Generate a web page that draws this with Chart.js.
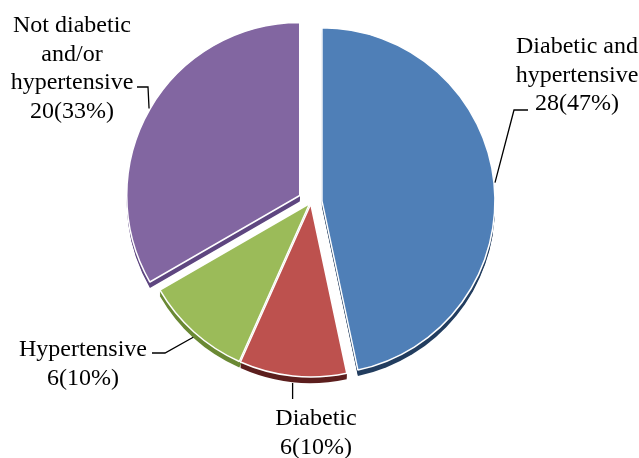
<!DOCTYPE html>
<html>
<head>
<meta charset="utf-8">
<script src="https://cdn.jsdelivr.net/npm/chart.js"></script>
<style>
    html, body { margin: 0; padding: 0; background: #ffffff; }
    #wrap { width: 639px; height: 458px; position: relative; }
</style>
</head>
<body>
<div id="wrap"><canvas id="pieChart"></canvas></div>
<script>
const categories = ['Diabetic and hypertensive', 'Diabetic', 'Hypertensive', 'Not diabetic and/or hypertensive'];
const counts = [28, 6, 6, 20];

const sliceColors = ['#4f7fb7', '#bd514e', '#9bbb59', '#8266a1'];
const sideColors = ['#223d5f', '#5c1e1d', '#6a8934', '#5e4680'];
const explode = [11, 2, 2, 13];   // how far each slice is pulled out
const depth = 6;                  // thickness of the pie

// label text per slice (the count line is added below)
const labelLines = [
    ['Diabetic and', 'hypertensive'],
    ['Diabetic'],
    ['Hypertensive'],
    ['Not diabetic', 'and/or', 'hypertensive']
];
const labelPos = [
    { x: 577, y: 53 },
    { x: 316, y: 425 },
    { x: 83, y: 356 },
    { x: 72, y: 32 }
];
// leader line bends, going from the slice out to the text
const leaderBends = [
    [{ x: 514, y: 110 }, { x: 528, y: 110 }],
    [{ x: null, y: 399 }],
    [{ x: 165, y: 353 }, { x: 152, y: 353 }],
    [{ x: 148, y: 87 }, { x: 137, y: 87 }]
];

const total = counts.reduce((a, b) => a + b, 0);

function pullOut(arc, i) {
    const mid = (arc.startAngle + arc.endAngle) / 2;
    return { dx: Math.cos(mid) * explode[i], dy: Math.sin(mid) * explode[i], mid: mid };
}

// draws the side walls, then the exploded slices on top
const pie3d = {
    id: 'pie3d',
    beforeDatasetDraw(chart, args) {
        const ctx = chart.ctx;
        const arcs = args.meta.data;
        arcs.forEach(function (arc, i) {
            const p = pullOut(arc, i);
            ctx.save();
            ctx.fillStyle = sideColors[i];
            for (let k = 1; k <= depth; k++) {
                ctx.beginPath();
                ctx.moveTo(arc.x + p.dx, arc.y + p.dy + k);
                ctx.arc(arc.x + p.dx, arc.y + p.dy + k, arc.outerRadius, arc.startAngle, arc.endAngle);
                ctx.closePath();
                ctx.fill();
            }
            ctx.restore();
        });
        arcs.forEach(function (arc, i) {
            const p = pullOut(arc, i);
            ctx.save();
            ctx.translate(p.dx, p.dy);
            arc.draw(ctx);
            ctx.restore();
        });
        return false;
    }
};

const pieLabels = {
    id: 'pieLabels',
    afterDraw(chart) {
        const ctx = chart.ctx;
        const arcs = chart.getDatasetMeta(0).data;
        ctx.save();
        ctx.strokeStyle = '#000000';
        ctx.lineWidth = 1.3;
        arcs.forEach(function (arc, i) {
            const p = pullOut(arc, i);
            const r = arc.outerRadius + 1;
            let sx = arc.x + p.dx + Math.cos(p.mid) * r;
            let sy = arc.y + p.dy + Math.sin(p.mid) * r;
            if (Math.sin(p.mid) > 0) sy += depth * Math.sin(p.mid);
            ctx.beginPath();
            ctx.moveTo(sx, sy);
            leaderBends[i].forEach(function (pt) {
                ctx.lineTo(pt.x === null ? sx : pt.x, pt.y);
            });
            ctx.stroke();
        });

        ctx.fillStyle = '#000000';
        ctx.font = '24px "Liberation Serif", "Times New Roman", serif';
        ctx.textAlign = 'center';
        ctx.textBaseline = 'alphabetic';
        counts.forEach(function (v, i) {
            const pct = Math.round(v / total * 100);
            const lines = labelLines[i].concat([v + '(' + pct + '%)']);
            lines.forEach(function (t, j) {
                ctx.fillText(t, labelPos[i].x, labelPos[i].y + j * 28.5);
            });
        });
        ctx.restore();
    }
};

new Chart(document.getElementById('pieChart').getContext('2d'), {
    type: 'pie',
    data: {
        labels: categories,
        datasets: [{
            data: counts,
            backgroundColor: sliceColors,
            borderColor: '#ffffff',
            borderWidth: 1.5
        }]
    },
    options: {
        responsive: true,
        maintainAspectRatio: false,
        animation: false,
        events: [],
        radius: 173,
        layout: { padding: { left: 0, right: 17, top: 0, bottom: 54 } },
        plugins: {
            legend: { display: false },
            tooltip: { enabled: false }
        }
    },
    plugins: [pie3d, pieLabels]
});
</script>
</body>
</html>
